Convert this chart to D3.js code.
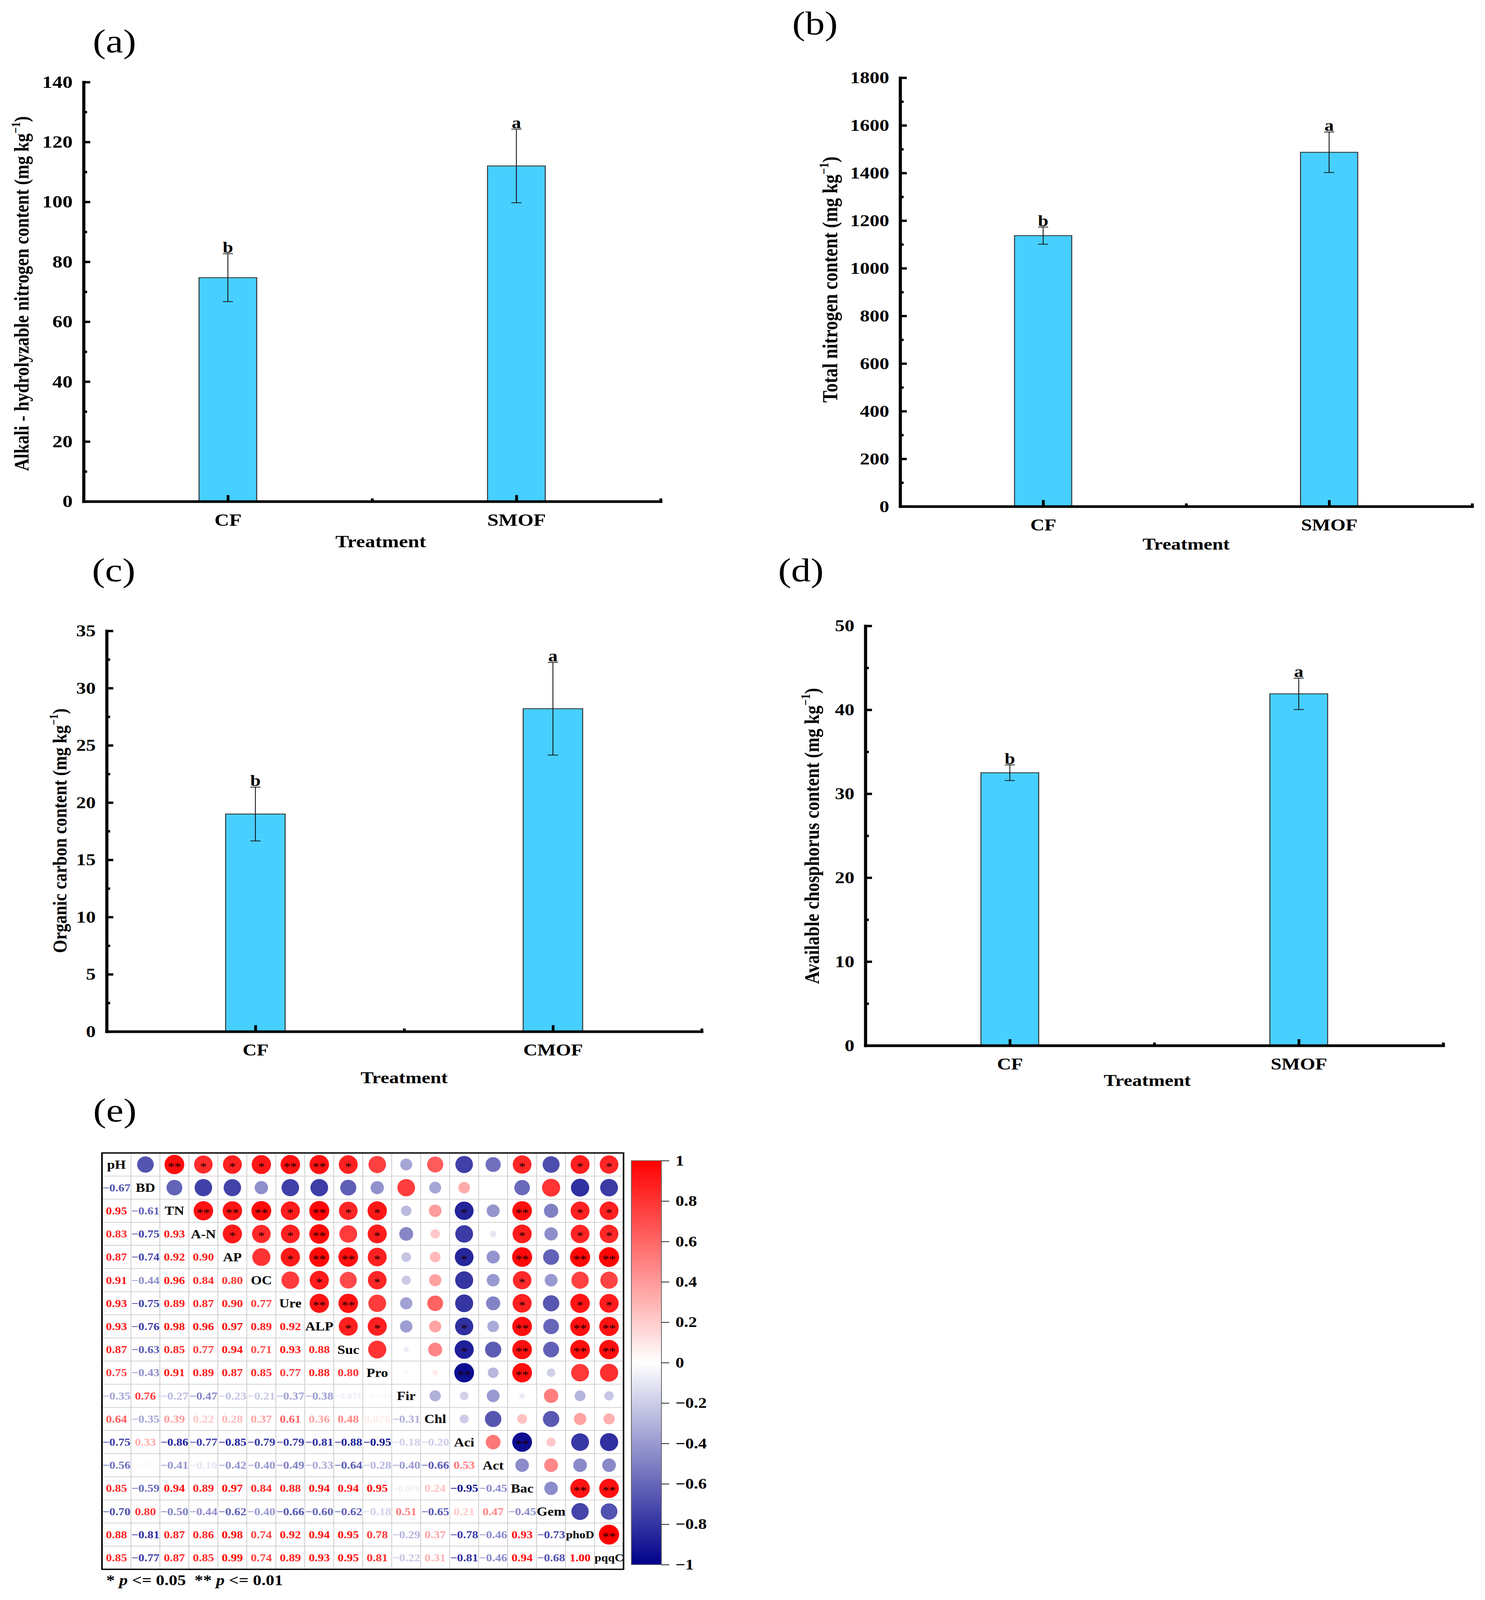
<!DOCTYPE html>
<html>
<head>
<meta charset="utf-8">
<script src="https://cdn.jsdelivr.net/npm/d3@7"></script>
<style>
  html, body { margin: 0; padding: 0; background: #fff; overflow: hidden; }
  /* the figure is laid out on a 3801x4796 canvas and stretched to whatever the viewport is */
  #fig { display: block; width: 100vw; height: 100vh; }
  svg text { font-family: "Times New Roman", "Liberation Serif", serif; }
</style>
</head>
<body>
<svg id="fig" viewBox="0 0 3801 4796" preserveAspectRatio="none"></svg>
<script>
// ---- data ----
const treatSM = ["CF", "SMOF"];
const treatCM = ["CF", "CMOF"];
const sigLetters = ["b", "a"];

const alkaliN = [74.7, 112.0];
const alkaliNErr = [8.0, 12.3];
const totalN = [1137, 1487];
const totalNErr = [36, 85];
const orgC = [19.0, 28.2];
const orgCErr = [2.35, 4.05];
const availP = [32.5, 41.9];
const availPErr = [0.93, 1.87];

const corrVars = ["pH","BD","TN","A-N","AP","OC","Ure","ALP","Suc","Pro","Fir","Chl","Aci","Act","Bac","Gem","phoD","pqqC"];
// lower triangle, row i holds r(i, 0..i-1)
const corrLower = [
  [],
  [-0.67],
  [0.95, -0.61],
  [0.83, -0.75, 0.93],
  [0.87, -0.74, 0.92, 0.90],
  [0.91, -0.44, 0.96, 0.84, 0.80],
  [0.93, -0.75, 0.89, 0.87, 0.90, 0.77],
  [0.93, -0.76, 0.98, 0.96, 0.97, 0.89, 0.92],
  [0.87, -0.63, 0.85, 0.77, 0.94, 0.71, 0.93, 0.88],
  [0.75, -0.43, 0.91, 0.89, 0.87, 0.85, 0.77, 0.88, 0.80],
  [-0.35, 0.76, -0.27, -0.47, -0.23, -0.21, -0.37, -0.38, -0.071, -0.029],
  [0.64, -0.35, 0.39, 0.22, 0.28, 0.37, 0.61, 0.36, 0.48, 0.076, -0.31],
  [-0.75, 0.33, -0.86, -0.77, -0.85, -0.79, -0.79, -0.81, -0.88, -0.95, -0.18, -0.20],
  [-0.56, 0.021, -0.41, -0.10, -0.42, -0.40, -0.49, -0.33, -0.64, -0.28, -0.40, -0.66, 0.53],
  [0.85, -0.59, 0.94, 0.89, 0.97, 0.84, 0.88, 0.94, 0.94, 0.95, -0.076, 0.24, -0.95, -0.45],
  [-0.70, 0.80, -0.50, -0.44, -0.62, -0.40, -0.66, -0.60, -0.62, -0.18, 0.51, -0.65, 0.21, 0.47, -0.45],
  [0.88, -0.81, 0.87, 0.86, 0.98, 0.74, 0.92, 0.94, 0.95, 0.78, -0.29, 0.37, -0.78, -0.46, 0.93, -0.73],
  [0.85, -0.77, 0.87, 0.85, 0.99, 0.74, 0.89, 0.93, 0.95, 0.81, -0.22, 0.31, -0.81, -0.46, 0.94, -0.68, 1.00]
];
// upper triangle significance marks, row i holds columns i+1..17
const corrStars = [
  ["", "**", "*", "*", "*", "**", "**", "*", "", "", "", "", "", "*", "", "*", "*"],
  ["", "", "", "", "", "", "", "", "", "", "", "", "", "", "", ""],
  ["**", "**", "**", "*", "**", "*", "*", "", "", "*", "", "**", "", "*", "*"],
  ["*", "*", "*", "**", "", "*", "", "", "", "", "*", "", "*", "*"],
  ["", "*", "**", "**", "*", "", "", "*", "", "**", "", "**", "**"],
  ["", "*", "", "*", "", "", "", "", "*", "", "", ""],
  ["**", "**", "", "", "", "", "", "*", "", "*", "*"],
  ["*", "*", "", "", "*", "", "**", "", "**", "**"],
  ["", "", "", "*", "", "**", "", "**", "**"],
  ["", "", "**", "", "**", "", "", ""],
  ["", "", "", "", "", "", ""],
  ["", "", "", "", "", ""],
  ["", "**", "", "", ""],
  ["", "", "", ""],
  ["", "**", "**"],
  ["", ""],
  ["**"]
];
const colorbarTicks = [-1, -0.8, -0.6, -0.4, -0.2, 0, 0.2, 0.4, 0.6, 0.8, 1];

// ---- drawing ----
const svg = d3.select("#fig");
const barColor = "#47CFFF";
const serif = '"Times New Roman","Liberation Serif",serif';

function barPanel(cfg) {
  const g = svg.append("g");
  const x = d3.scaleLinear().domain([0.5, 2.5]).range([cfg.left, cfg.right]);
  const y = d3.scaleLinear().domain([0, cfg.max]).range([cfg.bottom, cfg.top]);
  const barW = x(1.1) - x(0.9);
  const rows = cfg.values.map((v, i) => ({ v: v, e: cfg.err[i], k: i + 1, lab: sigLetters[i] }));

  g.selectAll("rect.bar").data(rows).enter().append("rect")
    .attr("class", "bar")
    .attr("x", d => x(d.k) - barW / 2)
    .attr("y", d => y(d.v))
    .attr("width", barW)
    .attr("height", d => y(0) - y(d.v))
    .attr("fill", barColor)
    .attr("stroke", "#333")
    .attr("stroke-width", 2.5);

  // error bars
  const eb = g.selectAll("g.err").data(rows).enter().append("g").attr("class", "err")
    .attr("stroke", "#111").attr("stroke-width", 2.2);
  eb.append("line").attr("x1", d => x(d.k)).attr("x2", d => x(d.k))
    .attr("y1", d => y(d.v - d.e)).attr("y2", d => y(d.v + d.e));
  eb.append("line").attr("x1", d => x(d.k) - 13).attr("x2", d => x(d.k) + 13)
    .attr("y1", d => y(d.v + d.e)).attr("y2", d => y(d.v + d.e));
  eb.append("line").attr("x1", d => x(d.k) - 13).attr("x2", d => x(d.k) + 13)
    .attr("y1", d => y(d.v - d.e)).attr("y2", d => y(d.v - d.e));

  g.selectAll("text.sig").data(rows).enter().append("text")
    .attr("class", "sig")
    .attr("x", d => x(d.k))
    .attr("y", d => y(d.v + d.e) - 3)
    .attr("text-anchor", "middle")
    .attr("font-size", 48).attr("font-weight", "bold")
    .text(d => d.lab);

  // y axis, major + minor ticks pointing inward
  const major = d3.range(0, cfg.max + cfg.step / 2, cfg.step);
  const minor = d3.range(cfg.step / 2, cfg.max, cfg.step);
  g.append("g").attr("transform", `translate(${cfg.left},0)`)
    .call(d3.axisLeft(y).tickValues(major).tickFormat(d3.format("d"))
      .tickSize(-17).tickSizeOuter(0).tickPadding(28));
  g.append("g").attr("transform", `translate(${cfg.left},0)`)
    .call(d3.axisLeft(y).tickValues(minor).tickSize(-9).tickSizeOuter(0).tickFormat(""))
    .call(a => a.select(".domain").remove());

  g.append("g").attr("transform", `translate(0,${cfg.bottom})`)
    .call(d3.axisBottom(x).tickValues([1, 2]).tickFormat(k => cfg.cats[k - 1])
      .tickSize(-19).tickSizeOuter(0).tickPadding(36));
  g.append("g").attr("transform", `translate(0,${cfg.bottom})`)
    .call(d3.axisBottom(x).tickValues([1.5, 2.5]).tickSize(-9).tickSizeOuter(0).tickFormat(""))
    .call(a => a.select(".domain").remove());

  g.selectAll(".domain").attr("stroke", "#000").attr("stroke-width", 8).attr("stroke-linecap", "square");
  g.selectAll(".tick line").attr("stroke", "#000").attr("stroke-width", 7);
  g.selectAll(".tick text").attr("fill", "#000").attr("font-weight", "bold")
    .attr("font-size", cfg.tickFont).style("font-family", serif);

  // titles
  g.append("text")
    .attr("x", (cfg.left + cfg.right) / 2 + (cfg.titleDx || 0))
    .attr("y", cfg.titleY)
    .attr("text-anchor", "middle")
    .attr("font-size", cfg.tickFont).attr("font-weight", "bold")
    .text("Treatment");

  const yl = g.append("text")
    .attr("transform", `translate(${cfg.ylabX},${cfg.ylabY}) rotate(-90)`)
    .attr("text-anchor", "middle")
    .attr("dy", "0.35em")
    .attr("font-size", cfg.ylabFont).attr("font-weight", "bold");
  yl.append("tspan").text(cfg.ylab + "(mg kg");
  yl.append("tspan").attr("font-size", cfg.ylabFont * 0.62).attr("dy", -cfg.ylabFont * 0.42).text("\u22121");
  yl.append("tspan").attr("dy", cfg.ylabFont * 0.42).text(")");

  svg.append("text")
    .attr("x", cfg.tagX).attr("y", cfg.tagY)
    .attr("text-anchor", "middle")
    .attr("font-size", 100)
    .text(cfg.tag);
}

barPanel({ tag: "(a)", tagX: 293, tagY: 157, left: 214, right: 1691, top: 246, bottom: 1503,
  max: 140, step: 20, cats: treatSM, values: alkaliN, err: alkaliNErr, tickFont: 52,
  titleY: 1640, titleDx: 22, ylab: "Alkali - hydrolyzable nitrogen content ", ylabX: 55, ylabY: 880, ylabFont: 52 });

barPanel({ tag: "(b)", tagX: 2086, tagY: 103, left: 2304, right: 3768, top: 233, bottom: 1518,
  max: 1800, step: 200, cats: treatSM, values: totalN, err: totalNErr, tickFont: 50,
  titleY: 1648, ylab: "Total nitrogen content ", ylabX: 2124, ylabY: 838, ylabFont: 54 });

barPanel({ tag: "(c)", tagX: 291, tagY: 1742, left: 273, right: 1796, top: 1891, bottom: 3092,
  max: 35, step: 5, cats: treatCM, values: orgC, err: orgCErr, tickFont: 50,
  titleY: 3247, ylab: "Organic carbon content ", ylabX: 152, ylabY: 2490, ylabFont: 51 });

barPanel({ tag: "(d)", tagX: 2050, tagY: 1742, left: 2215, right: 3694, top: 1876, bottom: 3134,
  max: 50, step: 10, cats: treatSM, values: availP, err: availPErr, tickFont: 50,
  titleY: 3255, titleDx: -18, ylab: "Available chosphorus content ", ylabX: 2077, ylabY: 2506, ylabFont: 53 });

// ---- (e) correlation matrix ----
svg.append("text").attr("x", 294).attr("y", 3362).attr("text-anchor", "middle")
  .attr("font-size", 100).text("(e)");

const nV = corrVars.length;
const mx = d3.scaleBand().domain(d3.range(nV)).range([261, 1596]);
const my = d3.scaleBand().domain(d3.range(nV)).range([3456, 4704]);
const corrColor = d3.scaleLinear().domain([-1, 0, 1]).range(["#00008B", "#ffffff", "#ff0000"]);

const cells = [];
for (let i = 0; i < nV; i++) {
  for (let j = 0; j < nV; j++) {
    let r = null, star = "";
    if (j < i) r = corrLower[i][j];
    else if (j > i) { r = corrLower[j][i]; star = corrStars[i][j - i - 1]; }
    cells.push({ i: i, j: j, r: r, star: star });
  }
}

svg.append("clipPath").attr("id", "mclip").append("rect")
  .attr("x", 261).attr("y", 3456).attr("width", 1596 - 261).attr("height", 4704 - 3456);
const mg = svg.append("g").attr("clip-path", "url(#mclip)");

mg.selectAll("rect.cell").data(cells).enter().append("rect")
  .attr("class", "cell")
  .attr("x", d => mx(d.j)).attr("y", d => my(d.i))
  .attr("width", mx.bandwidth()).attr("height", my.bandwidth())
  .attr("fill", "#fff").attr("stroke", "#cfcfcf").attr("stroke-width", 2);

const bw = mx.bandwidth(), bh = my.bandwidth();
const upper = cells.filter(d => d.j > d.i);
mg.selectAll("ellipse").data(upper).enter().append("ellipse")
  .attr("cx", d => mx(d.j) + bw / 2).attr("cy", d => my(d.i) + bh / 2)
  .attr("rx", d => Math.sqrt(Math.abs(d.r)) * bw * 0.35)
  .attr("ry", d => Math.sqrt(Math.abs(d.r)) * bh * 0.43)
  .attr("fill", d => corrColor(d.r));
mg.selectAll("text.star").data(upper.filter(d => d.star)).enter().append("text")
  .attr("class", "star")
  .attr("x", d => mx(d.j) + bw / 2).attr("y", d => my(d.i) + bh / 2 + 17)
  .attr("text-anchor", "middle").attr("font-size", 34).attr("fill", "#1a0000")
  .text(d => d.star);

const fmtR = r => Math.abs(r) < 0.095 ? d3.format(".3f")(r) : d3.format(".2f")(r);
mg.selectAll("text.num").data(cells.filter(d => d.j < d.i)).enter().append("text")
  .attr("class", "num")
  .attr("x", d => mx(d.j) + bw / 2).attr("y", d => my(d.i) + bh / 2)
  .attr("dy", "0.35em").attr("text-anchor", "middle")
  .attr("font-size", d => fmtR(d.r).length > 5 ? 25 : 31).attr("font-weight", "bold")
  .attr("fill", d => corrColor(d.r))
  .text(d => fmtR(d.r));

mg.selectAll("text.diag").data(corrVars).enter().append("text")
  .attr("class", "diag")
  .attr("x", (d, i) => mx(i) + bw / 2).attr("y", (d, i) => my(i) + bh / 2)
  .attr("dy", "0.35em").attr("text-anchor", "middle")
  .attr("font-size", d => d.length > 3 ? 31 : 36).attr("font-weight", "bold").attr("fill", "#000")
  .text(d => d);

svg.append("rect").attr("x", 261).attr("y", 3456).attr("width", 1596 - 261).attr("height", 4704 - 3456)
  .attr("fill", "none").attr("stroke", "#000").attr("stroke-width", 4);

// colour bar
const grad = svg.append("defs").append("linearGradient").attr("id", "cbar")
  .attr("x1", 0).attr("y1", 1).attr("x2", 0).attr("y2", 0);
grad.selectAll("stop").data([-1, -0.5, 0, 0.5, 1]).enter().append("stop")
  .attr("offset", d => (d + 1) / 2).attr("stop-color", d => corrColor(d));
const cbY = d3.scaleLinear().domain([-1, 1]).range([4690, 3479]);
svg.append("rect").attr("x", 1616).attr("y", 3479).attr("width", 77).attr("height", 4690 - 3479)
  .attr("fill", "url(#cbar)").attr("stroke", "#666").attr("stroke-width", 2);
const cbAx = svg.append("g").attr("transform", "translate(1693,0)")
  .call(d3.axisRight(cbY).tickValues(colorbarTicks).tickSize(20).tickPadding(16)
    .tickFormat(d => Math.abs(d) < 1e-9 ? "0" : (Math.abs(Math.abs(d) - 1) < 1e-9 ? d3.format("d")(d) : d3.format(".1f")(d))));
cbAx.select(".domain").remove();
cbAx.selectAll(".tick line").attr("stroke", "#000").attr("stroke-width", 2);
cbAx.selectAll(".tick text").attr("fill", "#000").attr("font-size", 44).attr("font-weight", "bold")
  .style("font-family", serif);

// significance legend
const leg = svg.append("text").attr("x", 272).attr("y", 4752)
  .attr("font-size", 44).attr("font-weight", "bold").style("white-space", "pre");
leg.append("tspan").text("* ");
leg.append("tspan").attr("font-style", "italic").text("p");
leg.append("tspan").text(" <= 0.05  ** ");
leg.append("tspan").attr("font-style", "italic").text("p");
leg.append("tspan").text(" <= 0.01");
</script>
</body>
</html>
